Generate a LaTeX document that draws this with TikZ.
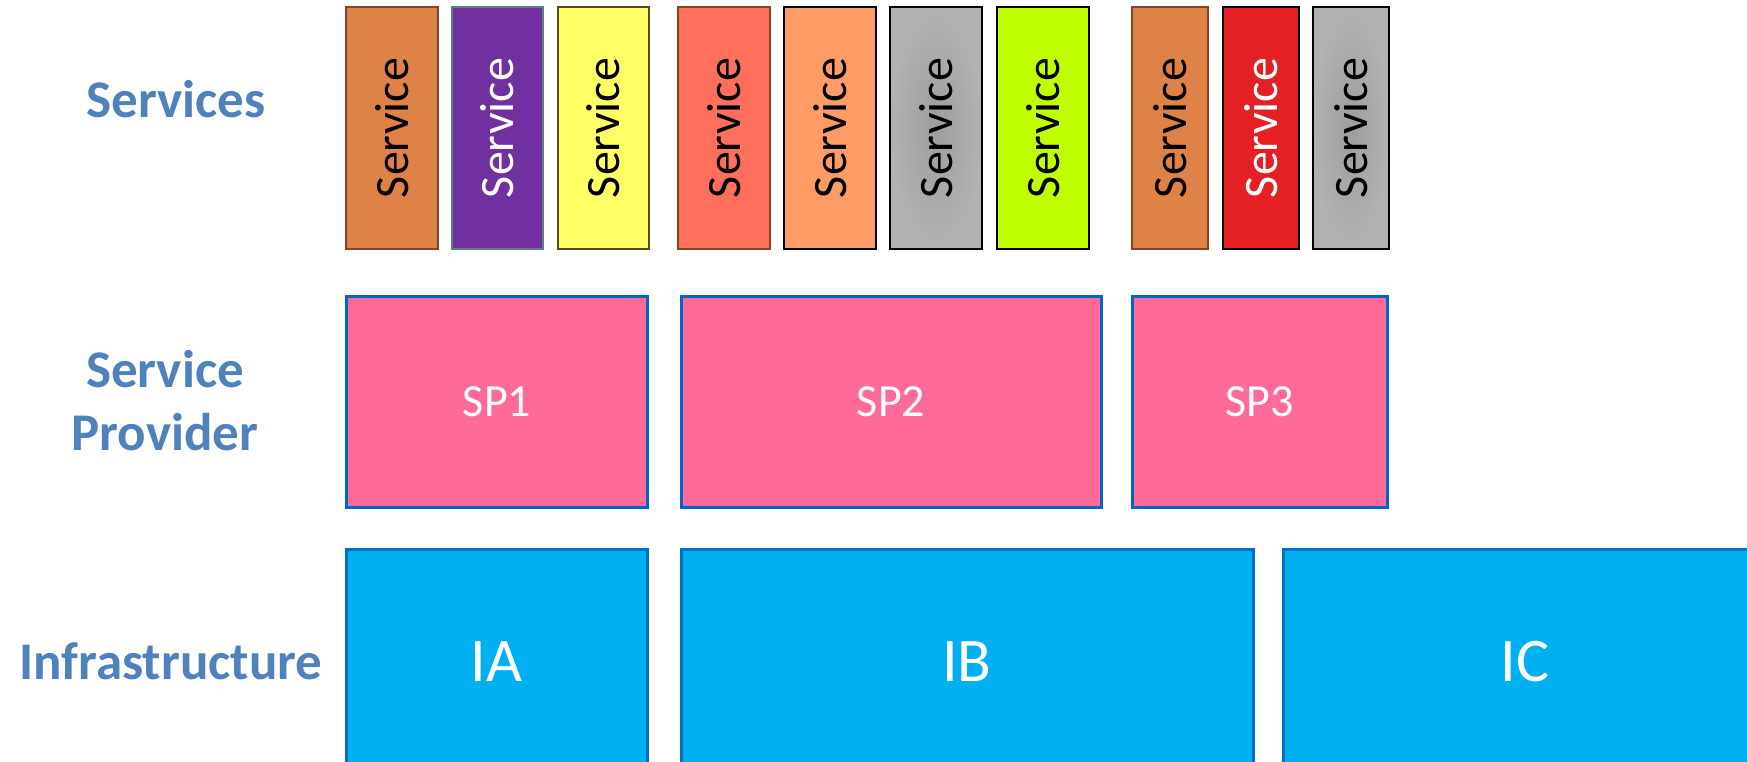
\documentclass[tikz,border=0pt]{standalone}
\usepackage{fontspec}
\setmainfont{Carlito}
\definecolor{lbl}{RGB}{79,129,189}
\definecolor{svcorange}{RGB}{222,130,72}
\definecolor{brownb}{RGB}{132,70,30}
\definecolor{svcpurple}{RGB}{112,48,160}
\definecolor{tealb}{RGB}{85,130,130}
\definecolor{svcyellow}{RGB}{255,255,102}
\definecolor{oliveb}{RGB}{90,75,30}
\definecolor{svcsalmon}{RGB}{255,112,92}
\definecolor{svclorange}{RGB}{255,156,102}
\definecolor{svclime}{RGB}{192,255,0}
\definecolor{svcred}{RGB}{228,32,36}
\definecolor{grayin}{RGB}{158,158,158}
\definecolor{grayout}{RGB}{178,178,178}
\definecolor{spfill}{RGB}{255,107,153}
\definecolor{spline}{RGB}{0,102,204}
\definecolor{infill}{RGB}{0,176,240}
\definecolor{inline}{RGB}{0,112,192}
\tikzset{
  svc/.style={rectangle, draw, line width=2pt, minimum height=242pt, inner sep=0pt,
    font=\fontsize{48}{58}\selectfont},
  svcgray/.style={svc, shading=radial, inner color=grayin, outer color=grayout, draw=black},
  spbox/.style={rectangle, draw=spline, fill=spfill, line width=3pt, text=white,
    minimum height=211pt, inner sep=0pt, font=\fontsize{46}{55}\selectfont},
  infbox/.style={rectangle, draw=inline, fill=infill, line width=3pt, text=white,
    minimum height=226pt, inner sep=0pt, font=\fontsize{62}{74}\selectfont},
  lab/.style={text=lbl, align=center, inner sep=0pt, font=\fontsize{53}{63}\selectfont\bfseries}
}
\newcommand{\svctxt}{\rotatebox{90}{Service}}
\begin{document}
\begin{tikzpicture}[x=1pt,y=-1pt]
\clip (0,0) rectangle (1747,761);
\fill[white] (0,0) rectangle (1747,761);
% labels
\node[lab] (lserv) at (176,99) {Services};
\node[lab] (lsp) at (165,401) {Service\\Provider};
\node[lab] (linf) at (171,661) {Infrastructure};
% services
\node[svc, fill=svcorange, draw=brownb, minimum width=92pt] (s1) at (391.7,128) {\svctxt};
\node[svc, fill=svcpurple, draw=tealb, text=white, minimum width=91pt] (s2) at (497.2,128) {\svctxt};
\node[svc, fill=svcyellow, draw=oliveb, minimum width=91pt] (s3) at (603.3,128) {\svctxt};
\node[svc, fill=svcsalmon, draw=brownb, minimum width=92pt] (s4) at (724,128) {\svctxt};
\node[svc, fill=svclorange, draw=black, minimum width=92pt] (s5) at (830,128) {\svctxt};
\node[svcgray, minimum width=92pt] (s6) at (936,128) {\svctxt};
\node[svc, fill=svclime, draw=black, minimum width=92pt] (s7) at (1043,128) {\svctxt};
\node[svc, fill=svcorange, draw=brownb, minimum width=76pt] (s8) at (1170,128) {\svctxt};
\node[svc, fill=svcred, draw=black, text=white, minimum width=76pt] (s9) at (1261,128) {\svctxt};
\node[svcgray, minimum width=76pt] (s10) at (1351,128) {\svctxt};
% service providers
\node[spbox, minimum width=301pt] (sp1) at (497,401.5) {SP1};
\node[spbox, minimum width=420pt] (sp2) at (891,401.5) {SP2};
\node[spbox, minimum width=255pt] (sp3) at (1259.5,401.5) {SP3};
% infrastructure
\node[infbox, minimum width=301pt] (ia) at (496.5,662) {IA};
\node[infbox, minimum width=572pt] (ib) at (967,662) {IB};
\node[infbox, minimum width=484pt] (ic) at (1525,662) {IC};
\end{tikzpicture}
\end{document}
